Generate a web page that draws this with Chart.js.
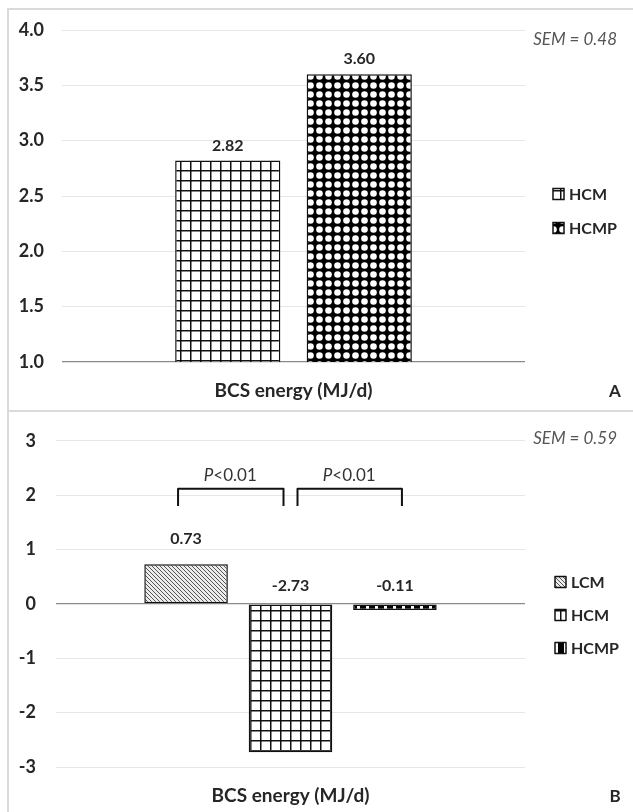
<!doctype html>
<html lang="en">
<head>
<meta charset="utf-8">
<title>BCS energy</title>
<script src="https://cdn.jsdelivr.net/npm/chart.js@4.4.1/dist/chart.umd.min.js"></script>
<style>
  body { margin: 0; background: #fff; }
  #page { position: relative; width: 633px; height: 812px; overflow: hidden; }
  .frame { position: absolute; left: 7px; width: 700px; border: 2px solid #dadada; border-right: none; }
  #frameA { top: 8px; height: 400px; }
  #frameB { top: 412px; height: 420px; border-top: none; }
  canvas { position: absolute; left: 0; }
  #chartA { top: 0; }
  #chartB { top: 410px; }
</style>
</head>
<body>
<div id="page">
  <div class="frame" id="frameA"></div>
  <div class="frame" id="frameB"></div>
  <canvas id="chartA" width="633" height="410"></canvas>
  <canvas id="chartB" width="633" height="402"></canvas>
</div>
<script>
// data
var category = ['BCS energy (MJ/d)'];
var seriesA = ['HCM', 'HCMP'];
var valuesA = [2.82, 3.60];
var seriesB = ['LCM', 'HCM', 'HCMP'];
var valuesB = [0.73, -2.73, -0.11];
var ticksA = [1.0, 1.5, 2.0, 2.5, 3.0, 3.5, 4.0];
var ticksB = [-3, -2, -1, 0, 1, 2, 3];
var semA = 'SEM = 0.48';
var semB = 'SEM = 0.59';
// pairs of bars in panel B joined by a bracket
var pairsB = [[0, 1], [1, 2]];
var pairText = 'P<0.01';

var FONT = 'Lato, "Open Sans", sans-serif';
var INK = '#262626';

// fill patterns (Excel style)
function tile(w, h, draw) {
  var c = document.createElement('canvas');
  c.width = w; c.height = h;
  var g = c.getContext('2d');
  draw(g, w, h);
  return g.createPattern(c, 'repeat');
}
var gridFill = tile(10, 10, function (g, w, h) {
  g.fillStyle = '#fff'; g.fillRect(0, 0, w, h);
  g.fillStyle = '#111'; g.fillRect(0, 0, w, 1.5); g.fillRect(0, 0, 1.5, h);
});
var dotFill = tile(9, 9, function (g, w, h) {
  g.fillStyle = '#000'; g.fillRect(0, 0, w, h);
  g.fillStyle = '#fff'; g.beginPath(); g.arc(4.5, 4.5, 3.3, 0, Math.PI * 2); g.fill();
});
var hatchFill = tile(4, 4, function (g, w, h) {
  g.fillStyle = '#ececec'; g.fillRect(0, 0, w, h);
  g.strokeStyle = '#555'; g.lineWidth = 1;
  g.beginPath();
  g.moveTo(-1, -1); g.lineTo(5, 5);
  g.moveTo(-1, 3); g.lineTo(1, 5);
  g.moveTo(3, -1); g.lineTo(5, 1);
  g.stroke();
});
var dashFill = tile(9, 4, function (g, w, h) {
  g.fillStyle = '#fff'; g.fillRect(0, 0, w, h);
  g.fillStyle = '#000'; g.fillRect(0, 0, 6, h);
});

// texts and legend drawn on top of the chart
var extras = {
  id: 'extras',
  afterDatasetsDraw: function (chart, args, o) {
    var ctx = chart.ctx;
    var y = chart.scales.y;
    ctx.save();
    ctx.textBaseline = 'middle';

    // value labels
    ctx.font = 'bold 16px ' + FONT;
    ctx.fillStyle = INK;
    ctx.textAlign = 'center';
    chart.data.datasets.forEach(function (ds, i) {
      var el = chart.getDatasetMeta(i).data[0];
      var v = ds.data[0];
      var ly = v >= 0 ? el.y - o.labelGap : el.base - o.negGap;
      ctx.fillText(v.toFixed(2), el.x, ly);
    });

    // brackets with P values
    (o.pairs || []).forEach(function (p) {
      var a = chart.getDatasetMeta(p[0]).data[0];
      var b = chart.getDatasetMeta(p[1]).data[0];
      var x1 = a.x + p[2], x2 = b.x + p[3];
      var top = y.getPixelForValue(2.12), foot = y.getPixelForValue(1.8);
      ctx.strokeStyle = '#111';
      ctx.lineWidth = 2;
      ctx.lineJoin = 'round';
      ctx.beginPath();
      ctx.moveTo(x1, foot); ctx.lineTo(x1, top); ctx.lineTo(x2, top); ctx.lineTo(x2, foot);
      ctx.stroke();
      var cx = (x1 + x2) / 2 - 0.5, ty = top - 13;
      ctx.font = 'italic 17px ' + FONT;
      var wP = ctx.measureText('P').width;
      ctx.font = '17px ' + FONT;
      var rest = pairText.slice(1);
      var wR = ctx.measureText(rest).width;
      var sx = cx - (wP + wR) / 2;
      ctx.textAlign = 'left';
      ctx.fillStyle = '#333';
      ctx.font = 'italic 17px ' + FONT;
      ctx.fillText('P', sx, ty);
      ctx.font = '17px ' + FONT;
      ctx.fillText(rest, sx + wP, ty);
    });

    // SEM note
    ctx.font = 'italic 17px ' + FONT;
    ctx.fillStyle = '#555';
    ctx.textAlign = 'right';
    ctx.fillText(o.sem, 617, o.semY);

    // panel letter
    ctx.font = 'bold 17px ' + FONT;
    ctx.fillStyle = INK;
    ctx.textAlign = 'center';
    ctx.fillText(o.letter, 615, o.letterY);

    // legend
    chart.data.datasets.forEach(function (ds, i) {
      var ly = o.legendY[i];
      ctx.fillStyle = ds.backgroundColor;
      ctx.fillRect(o.legendX, ly - 5.5, 11, 11);
      ctx.strokeStyle = '#111';
      ctx.lineWidth = 1.5;
      ctx.strokeRect(o.legendX, ly - 5.5, 11, 11);
      ctx.font = 'bold 16px ' + FONT;
      ctx.fillStyle = INK;
      ctx.textAlign = 'left';
      ctx.fillText(ds.label, o.legendX + 16, ly + 0.5);
    });
    ctx.restore();
  }
};

function axisOptions(ticks, leftW, bottomH, tickPad, decimals, axisValue) {
  return {
    x: {
      grid: { display: false },
      border: { display: false },
      ticks: { color: INK, padding: 9, font: { family: FONT, size: 19, weight: 'bold' } },
      afterFit: function (s) { s.height = bottomH; }
    },
    y: {
      min: ticks[0],
      max: ticks[ticks.length - 1],
      border: { display: false },
      grid: {
        drawTicks: false,
        color: function (c) { return c.tick && c.tick.value === axisValue ? '#8a8a8a' : '#e6e6e6'; },
        lineWidth: function (c) { return c.tick && c.tick.value === axisValue ? 1.3 : 1; }
      },
      ticks: {
        stepSize: ticks[1] - ticks[0],
        padding: tickPad,
        color: INK,
        font: { family: FONT, size: 18, weight: 'bold' },
        callback: function (v) { return Number(v).toFixed(decimals); }
      },
      afterFit: function (s) { s.width = leftW; }
    }
  };
}

var fillsA = [gridFill, dotFill];
var chartA = new Chart(document.getElementById('chartA'), {
  type: 'bar',
  data: {
    labels: category,
    datasets: seriesA.map(function (name, i) {
      return {
        label: name, data: [valuesA[i]], backgroundColor: fillsA[i],
        borderColor: '#111', borderWidth: 1.5, borderSkipped: false,
        categoryPercentage: 0.568, barPercentage: 0.8
      };
    })
  },
  options: {
    responsive: false,
    animation: false,
    layout: { padding: { left: 0, right: 108, top: 30, bottom: 0 } },
    scales: axisOptions(ticksA, 62, 48, 18, 1, ticksA[0]),
    plugins: {
      legend: { display: false },
      tooltip: { enabled: false },
      extras: { labelGap: 15, negGap: 0, sem: semA, semY: 40, letter: 'A', letterY: 392,
                legendX: 553, legendY: [194, 228] }
    }
  },
  plugins: [extras]
});

var fillsB = [hatchFill, gridFill, dashFill];
var chartB = new Chart(document.getElementById('chartB'), {
  type: 'bar',
  data: {
    labels: category,
    datasets: seriesB.map(function (name, i) {
      return {
        label: name, data: [valuesB[i]], backgroundColor: fillsB[i],
        borderColor: '#111', borderWidth: 1.5, borderSkipped: false,
        categoryPercentage: 0.668, barPercentage: 0.8
      };
    })
  },
  options: {
    responsive: false,
    animation: false,
    layout: { padding: { left: 0, right: 108, top: 23, bottom: 0 } },
    scales: axisOptions(ticksB, 56, 45, 20, 0, 0),
    plugins: {
      legend: { display: false },
      tooltip: { enabled: false },
      extras: { labelGap: 25, negGap: 19, sem: semB, semY: 29, letter: 'B', letterY: 387,
                legendX: 555, legendY: [172, 205, 238],
                pairs: [[pairsB[0][0], pairsB[0][1], -8, -7], [pairsB[1][0], pairsB[1][1], 7, 7]] }
    }
  },
  plugins: [extras]
});
</script>
</body>
</html>
